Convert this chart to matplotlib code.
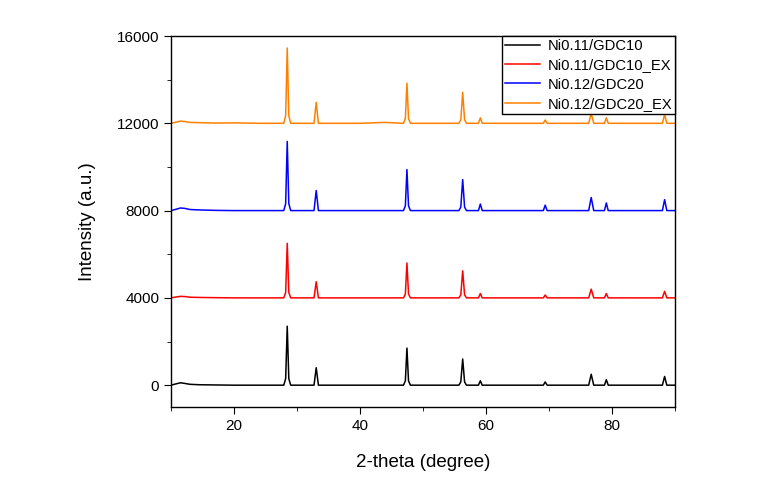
import matplotlib.pyplot as plt
from matplotlib.ticker import MultipleLocator

plt.rcParams['font.family'] = ['Liberation Sans', 'DejaVu Sans']

# 2-theta sample points (baseline and peak apex/base positions)
two_theta = [10, 10.8, 11.5, 12.2, 13.0, 14.5, 17, 20, 24, 27.9, 28.2, 28.45, 28.7, 29.0,
             32.7, 33.05, 33.4, 40, 44, 46.9, 47.2, 47.45, 47.7, 48.0,
             55.7, 56.0, 56.3, 56.6, 56.9, 58.8, 59.1, 59.4, 65, 69.1, 69.4, 69.7,
             76.3, 76.7, 77.1, 78.8, 79.1, 79.4, 85, 88.0, 88.35, 88.7, 90]

# raw intensities (before stacking offset)
ni011 = [0, 60, 110, 80, 40, 20, 10, 0, 0, 0, 300, 2700, 300, 0,
         0, 800, 0, 0, 0, 0, 200, 1700, 200, 0,
         0, 150, 1200, 150, 0, 0, 200, 0, 0, 0, 150, 0,
         0, 500, 0, 0, 250, 0, 0, 0, 400, 0, 0]
ni011_ex = [0, 40, 70, 60, 30, 20, 10, 0, 0, 0, 250, 2500, 250, 0,
            0, 740, 0, 0, 0, 0, 180, 1600, 180, 0,
            0, 140, 1240, 140, 0, 0, 200, 0, 0, 0, 130, 0,
            0, 400, 0, 0, 200, 0, 0, 0, 300, 0, 0]
ni012 = [0, 60, 120, 100, 50, 30, 10, 0, 0, 0, 320, 3170, 320, 0,
         0, 920, 0, 0, 0, 0, 220, 1880, 220, 0,
         0, 160, 1420, 160, 0, 0, 300, 0, 0, 0, 250, 0,
         0, 600, 0, 0, 350, 0, 0, 0, 500, 0, 0]
ni012_ex = [0, 50, 100, 80, 40, 30, 10, 20, 0, 0, 350, 3450, 350, 0,
            0, 960, 0, 0, 40, 0, 220, 1840, 220, 0,
            0, 160, 1420, 160, 0, 0, 250, 0, 0, 0, 150, 0,
            0, 450, 0, 0, 250, 0, 0, 0, 400, 0, 0]

series = [ni011, ni011_ex, ni012, ni012_ex]
offsets = [0, 4000, 8000, 12000]
labels = ["Ni0.11/GDC10", "Ni0.11/GDC10_EX", "Ni0.12/GDC20", "Ni0.12/GDC20_EX"]
colors = ["black", "red", "blue", "#ff8000"]

fig = plt.figure(figsize=(7.75, 4.82), dpi=100)
ax = fig.add_axes([171 / 775, 1 - 407 / 482, (675 - 171) / 775, (407 - 36) / 482])

for vals, off, lab, col in zip(series, offsets, labels, colors):
    ax.plot(two_theta, [v + off for v in vals], color=col, lw=1.1, label=lab)

ax.set_xlim(10, 90)
ax.set_ylim(-1000, 16000)
ax.xaxis.set_major_locator(MultipleLocator(20))
ax.xaxis.set_minor_locator(MultipleLocator(10))
ax.yaxis.set_major_locator(MultipleLocator(4000))
ax.yaxis.set_minor_locator(MultipleLocator(2000))
ax.tick_params(which='major', direction='out', length=5, labelsize=11, top=False, right=False)
ax.tick_params(which='minor', direction='out', length=3, top=False, right=False)
for s in ax.spines.values():
    s.set_linewidth(1.0)

ax.set_xlabel("2-theta (degree)", fontsize=13.5, labelpad=15)
ax.set_ylabel("Intensity (a.u.)", fontsize=13.5, labelpad=15)

leg = ax.legend(loc='upper right', borderaxespad=0, fancybox=False, framealpha=1,
                edgecolor='black', fontsize=10.6, handlelength=2.4, handletextpad=0.5,
                borderpad=0.2, labelspacing=0.36)
leg.get_frame().set_linewidth(1.0)

fig.savefig("out.png", dpi=100)
